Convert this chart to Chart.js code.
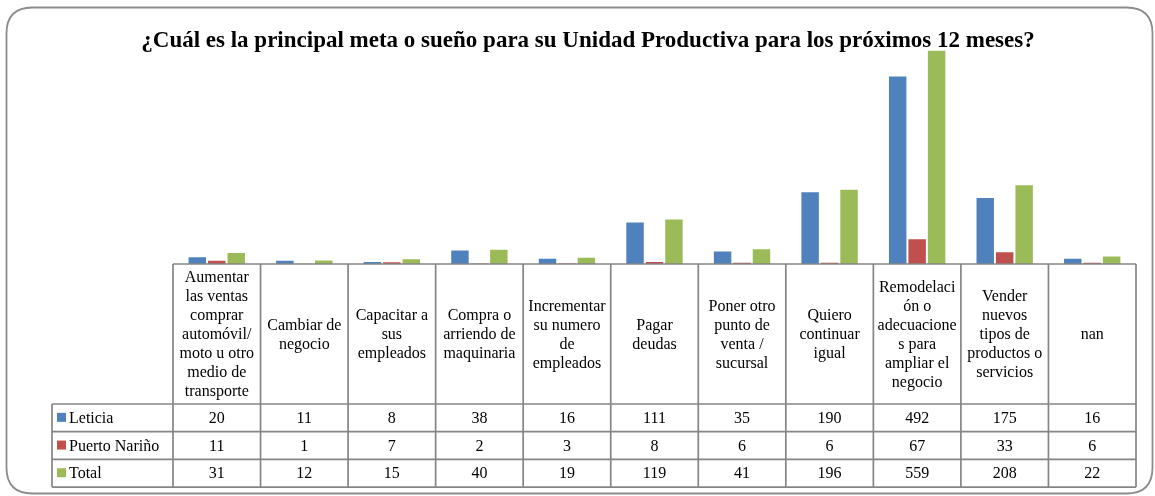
<!DOCTYPE html>
<html>
<head>
<meta charset="utf-8">
<script src="https://cdn.jsdelivr.net/npm/chart.js@4"></script>
<style>
  html, body { margin: 0; padding: 0; background: #ffffff; }
  #wrap { width: 1155px; height: 496px; }
</style>
</head>
<body>
<div id="wrap"><canvas id="c" width="1155" height="496"></canvas></div>
<script>
const chartTitle = "¿Cuál es la principal meta o sueño para su Unidad Productiva para los próximos 12 meses?";
const categories = [
  ["Aumentar", "las ventas", "comprar", "automóvil/", "moto u otro", "medio de", "transporte"],
  ["Cambiar de", "negocio"],
  ["Capacitar a", "sus", "empleados"],
  ["Compra o", "arriendo de", "maquinaria"],
  ["Incrementar", "su numero", "de", "empleados"],
  ["Pagar", "deudas"],
  ["Poner otro", "punto de", "venta /", "sucursal"],
  ["Quiero", "continuar", "igual"],
  ["Remodelaci", "ón o", "adecuacione", "s para", "ampliar el", "negocio"],
  ["Vender", "nuevos", "tipos de", "productos o", "servicios"],
  ["nan"]
];
const seriesNames = ["Leticia", "Puerto Nariño", "Total"];
const leticia = [20, 11, 8, 38, 16, 111, 35, 190, 492, 175, 16];
const puertoNarino = [11, 1, 7, 2, 3, 8, 6, 6, 67, 33, 6];
const total = [31, 12, 15, 40, 19, 119, 41, 196, 559, 208, 22];
const yMax = 600;

const colors = ["#4F81BD", "#C0504D", "#9BBB59"];
const seriesData = [leticia, puertoNarino, total];
const FONT = '"Liberation Serif", "DejaVu Serif", serif';
const GRID = "#858585";

function roundRect(ctx, x, y, w, h, r) {
  ctx.beginPath();
  ctx.moveTo(x + r, y);
  ctx.lineTo(x + w - r, y);
  ctx.quadraticCurveTo(x + w, y, x + w, y + r);
  ctx.lineTo(x + w, y + h - r);
  ctx.quadraticCurveTo(x + w, y + h, x + w - r, y + h);
  ctx.lineTo(x + r, y + h);
  ctx.quadraticCurveTo(x, y + h, x, y + h - r);
  ctx.lineTo(x, y + r);
  ctx.quadraticCurveTo(x, y, x + r, y);
  ctx.closePath();
}

const tablePlugin = {
  id: "tablePlugin",
  beforeDraw(chart) {
    const ctx = chart.ctx;
    ctx.save();
    ctx.fillStyle = "#ffffff";
    ctx.fillRect(0, 0, chart.width, chart.height);
    roundRect(ctx, 6.5, 7.5, 1146, 486, 26);
    ctx.strokeStyle = "#8c8c8c";
    ctx.lineWidth = 1.8;
    ctx.stroke();
    // title
    ctx.fillStyle = "#000000";
    ctx.font = 'bold 23px ' + FONT;
    ctx.textAlign = "center";
    ctx.textBaseline = "alphabetic";
    ctx.fillText(chartTitle, 588, 47);
    ctx.restore();
  },
  afterDraw(chart) {
    const ctx = chart.ctx;
    const area = chart.chartArea;
    const n = categories.length;
    const cw = (area.right - area.left) / n;
    const legendW = 121;
    const headTop = area.bottom;
    const headH = 140;
    const rowH = 27.7;
    const tLeft = area.left - legendW;
    const tBottom = headTop + headH + rowH * 3;
    ctx.save();
    ctx.strokeStyle = GRID;
    ctx.lineWidth = 1.7;
    ctx.beginPath();
    ctx.moveTo(area.left, headTop); ctx.lineTo(area.right, headTop);
    for (let r = 0; r <= 3; r++) {
      const y = headTop + headH + rowH * r;
      ctx.moveTo(tLeft, y); ctx.lineTo(area.right, y);
    }
    ctx.moveTo(tLeft, headTop + headH); ctx.lineTo(tLeft, tBottom);
    for (let i = 0; i <= n; i++) {
      const x = area.left + cw * i;
      ctx.moveTo(x, headTop); ctx.lineTo(x, tBottom);
    }
    ctx.stroke();

    ctx.fillStyle = "#000000";
    ctx.font = '16px ' + FONT;
    ctx.textAlign = "center";
    ctx.textBaseline = "middle";
    const lh = 19;
    const xs = chart.scales.x;
    categories.forEach((lines, i) => {
      const cx = xs.getPixelForValue(i);
      const cy = headTop + headH / 2;
      const start = cy - (lines.length - 1) * lh / 2;
      lines.forEach((t, k) => ctx.fillText(t, cx, start + k * lh + 1));
    });

    seriesNames.forEach((name, r) => {
      const cy = headTop + headH + rowH * r + rowH / 2;
      ctx.fillStyle = colors[r];
      ctx.fillRect(tLeft + 5, cy - 5, 9, 9);
      ctx.fillStyle = "#000000";
      ctx.textAlign = "left";
      ctx.fillText(name, tLeft + 17, cy + 1);
      ctx.textAlign = "center";
      seriesData[r].forEach((v, i) => {
        ctx.fillText(String(v), xs.getPixelForValue(i), cy + 1);
      });
    });
    ctx.restore();
  }
};

new Chart(document.getElementById("c"), {
  type: "bar",
  data: {
    labels: categories.map(l => l.join(" ")),
    datasets: seriesNames.map((name, i) => ({
      label: name,
      data: seriesData[i],
      backgroundColor: colors[i],
      borderColor: "rgba(255,255,255,0.35)",
      borderWidth: 1,
      categoryPercentage: 2 / 3,
      barPercentage: 1
    }))
  },
  options: {
    responsive: false,
    animation: false,
    devicePixelRatio: 1,
    layout: { padding: { left: 173, right: 19, top: 34, bottom: 232 } },
    plugins: {
      legend: { display: false },
      title: { display: false },
      tooltip: { enabled: false }
    },
    scales: {
      x: { display: false, grid: { display: false } },
      y: { display: false, min: 0, max: yMax, grid: { display: false } }
    }
  },
  plugins: [tablePlugin]
});
</script>
</body>
</html>
